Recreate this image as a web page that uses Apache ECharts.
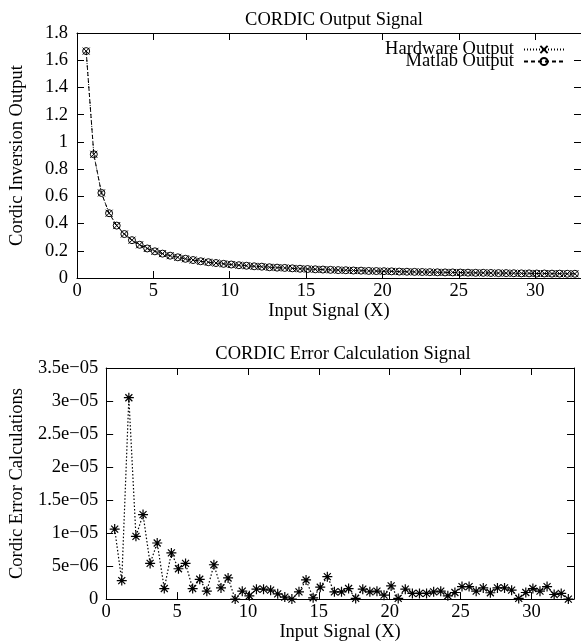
<!DOCTYPE html>
<html>
<head>
<meta charset="utf-8">
<script src="https://cdn.jsdelivr.net/npm/echarts@6/dist/echarts.min.js"></script>
<style>
html,body{margin:0;padding:0;background:#fff;}
#c{width:581px;height:643px;}
</style>
</head>
<body>
<div id="c"></div>
<script>
// ---- data ----
var xVals = [0.6,1.1,1.6,2.1,2.6,3.1,3.6,4.1,4.6,5.1,5.6,6.1,6.6,7.1,7.6,8.1,8.6,9.1,9.6,10.1,
  10.6,11.1,11.6,12.1,12.6,13.1,13.6,14.1,14.6,15.1,15.6,16.1,16.6,17.1,17.6,18.1,18.6,19.1,19.6,20.1,
  20.6,21.1,21.6,22.1,22.6,23.1,23.6,24.1,24.6,25.1,25.6,26.1,26.6,27.1,27.6,28.1,28.6,29.1,29.6,30.1,
  30.6,31.1,31.6,32.1,32.6];
var hardwareOut = [1.667,0.909,0.625,0.476,0.385,0.323,0.278,0.244,0.217,0.196,0.179,0.164,0.152,0.141,0.132,0.123,0.116,0.110,0.104,0.099,
  0.094,0.090,0.086,0.083,0.079,0.076,0.074,0.071,0.068,0.066,0.064,0.062,0.060,0.058,0.057,0.055,0.054,0.052,0.051,0.050,
  0.049,0.047,0.046,0.045,0.044,0.043,0.042,0.041,0.041,0.040,0.039,0.038,0.038,0.037,0.036,0.036,0.035,0.034,0.034,0.033,
  0.033,0.032,0.032,0.031,0.031];
var matlabOut = [1.667,0.909,0.625,0.476,0.385,0.323,0.278,0.244,0.217,0.196,0.179,0.164,0.152,0.141,0.132,0.123,0.116,0.110,0.104,0.099,
  0.094,0.090,0.086,0.083,0.079,0.076,0.074,0.071,0.068,0.066,0.064,0.062,0.060,0.058,0.057,0.055,0.054,0.052,0.051,0.050,
  0.049,0.047,0.046,0.045,0.044,0.043,0.042,0.041,0.041,0.040,0.039,0.038,0.038,0.037,0.036,0.036,0.035,0.034,0.034,0.033,
  0.033,0.032,0.032,0.031,0.031];
var errorVals = [10.6e-6,2.8e-6,30.5e-6,9.5e-6,12.8e-6,5.4e-6,8.5e-6,1.6e-6,7.0e-6,4.6e-6,5.4e-6,1.6e-6,3.0e-6,1.2e-6,5.2e-6,1.7e-6,3.2e-6,0.0,1.2e-6,0.5e-6,
  1.5e-6,1.5e-6,1.35e-6,0.8e-6,0.3e-6,0.0,1.1e-6,2.9e-6,0.2e-6,1.8e-6,3.4e-6,1.1e-6,1.1e-6,1.6e-6,0.1e-6,1.5e-6,1.1e-6,1.2e-6,0.6e-6,2.0e-6,
  0.1e-6,1.5e-6,0.86e-6,0.86e-6,0.86e-6,1.1e-6,1.2e-6,0.5e-6,1.0e-6,1.9e-6,1.9e-6,1.2e-6,1.7e-6,0.96e-6,1.7e-6,1.7e-6,1.35e-6,0.1e-6,1.0e-6,1.6e-6,
  1.2e-6,1.9e-6,0.7e-6,0.86e-6,0.0];
var errTickLabels = ['0','5e\u221206','1e\u221205','1.5e\u221205','2e\u221205','2.5e\u221205','3e\u221205','3.5e\u221205'];
var topTitle = 'CORDIC Output Signal';
var bottomTitle = 'CORDIC Error Calculation Signal';

function pairs(xs, ys){ var r=[]; for (var i=0;i<xs.length;i++) r.push([xs[i], ys[i]]); return r; }

var FONT = 'Liberation Serif';
var FS = 18.5;
var crossPath = 'path://M0,0L10,10M10,0L0,10';
var starPath = 'path://M5,0L5,10M0,5L10,5M1.5,1.5L8.5,8.5M8.5,1.5L1.5,8.5';

function xAx(gi, pos, showLabel, name){
  return {
    type:'value', gridIndex:gi, position:pos, min:0, max:33, interval:5,
    name: name || '', nameLocation:'middle', nameGap:20,
    nameTextStyle:{fontFamily:FONT, fontSize:FS, color:'#000'},
    axisLine:{show:true, onZero:false, lineStyle:{color:'#000', width:1}},
    axisTick:{show:true, inside:true, length:7, lineStyle:{color:'#000'}},
    axisLabel:{show:showLabel, showMaxLabel:false, margin:4, fontFamily:FONT, fontSize:FS, color:'#000'},
    splitLine:{show:false}
  };
}
function yAx(gi, pos, showLabel, max, interval, name, gap, margin, fmt){
  return {
    type:'value', gridIndex:gi, position:pos, min:0, max:max, interval:interval,
    name: name || '', nameLocation:'middle', nameGap:gap,
    nameTextStyle:{fontFamily:FONT, fontSize:FS, color:'#000'},
    axisLine:{show:true, onZero:false, lineStyle:{color:'#000', width:1}},
    axisTick:{show:true, inside:true, length:7, lineStyle:{color:'#000'}},
    axisLabel:{show:showLabel, margin:margin, fontFamily:FONT, fontSize:FS, color:'#000', formatter: fmt},
    splitLine:{show:false}
  };
}

var chart = echarts.init(document.getElementById('c'), null, {renderer:'canvas'});
chart.setOption({
  backgroundColor:'#fff',
  animation:false,
  title:[
    {text:topTitle, left:329, top:6, textAlign:'center',
     textStyle:{fontFamily:FONT, fontSize:FS, fontWeight:'normal', color:'#000'}},
    {text:bottomTitle, left:338, top:340, textAlign:'center',
     textStyle:{fontFamily:FONT, fontSize:FS, fontWeight:'normal', color:'#000'}}
  ],
  legend:{
    orient:'vertical', right:11, top:35, align:'right',
    itemWidth:40, itemHeight:9, itemGap:-7,
    textStyle:{fontFamily:FONT, fontSize:FS, color:'#000', padding:[0,5,0,0]},
    data:['Hardware Output','Matlab Output']
  },
  grid:[
    {left:77, top:33, width:506, height:245, containLabel:false},
    {left:103, top:368, width:471, height:233, containLabel:false}
  ],
  xAxis:[
    xAx(0,'bottom',true,'Input Signal (X)'),
    xAx(0,'top',false),
    xAx(1,'bottom',true,'Input Signal (X)'),
    xAx(1,'top',false)
  ],
  yAxis:[
    yAx(0,'left',true,1.8,0.2,'Cordic Inversion Output',50,9),
    yAx(0,'right',false,1.8,0.2,'',0,9),
    yAx(1,'left',true,3.5e-5,5e-6,'Cordic Error Calculations',77,8,
        function(v){ return errTickLabels[Math.round(v/5e-6)]; }),
    yAx(1,'right',false,3.5e-5,5e-6,'',0,8)
  ],
  series:[
    {name:'Hardware Output', type:'line', xAxisIndex:0, yAxisIndex:0,
     data:pairs(xVals, hardwareOut), symbol:crossPath, symbolSize:7, showAllSymbol:true,
     lineStyle:{color:'#000', width:1, type:[1,2]},
     itemStyle:{color:'#000', borderColor:'#000', borderWidth:1}},
    {name:'Matlab Output', type:'line', xAxisIndex:0, yAxisIndex:0,
     data:pairs(xVals, matlabOut), symbol:'circle', symbolSize:7, showAllSymbol:true,
     lineStyle:{color:'#000', width:1, type:[4,3]},
     itemStyle:{color:'rgba(0,0,0,0)', borderColor:'#000', borderWidth:1}},
    {name:'Error', type:'line', xAxisIndex:2, yAxisIndex:2,
     data:pairs(xVals, errorVals), symbol:starPath, symbolSize:10, showAllSymbol:true,
     lineStyle:{color:'#000', width:1.2, type:[1.5,2]},
     itemStyle:{color:'#000', borderColor:'#000', borderWidth:1.2}}
  ]
});
</script>
</body>
</html>
